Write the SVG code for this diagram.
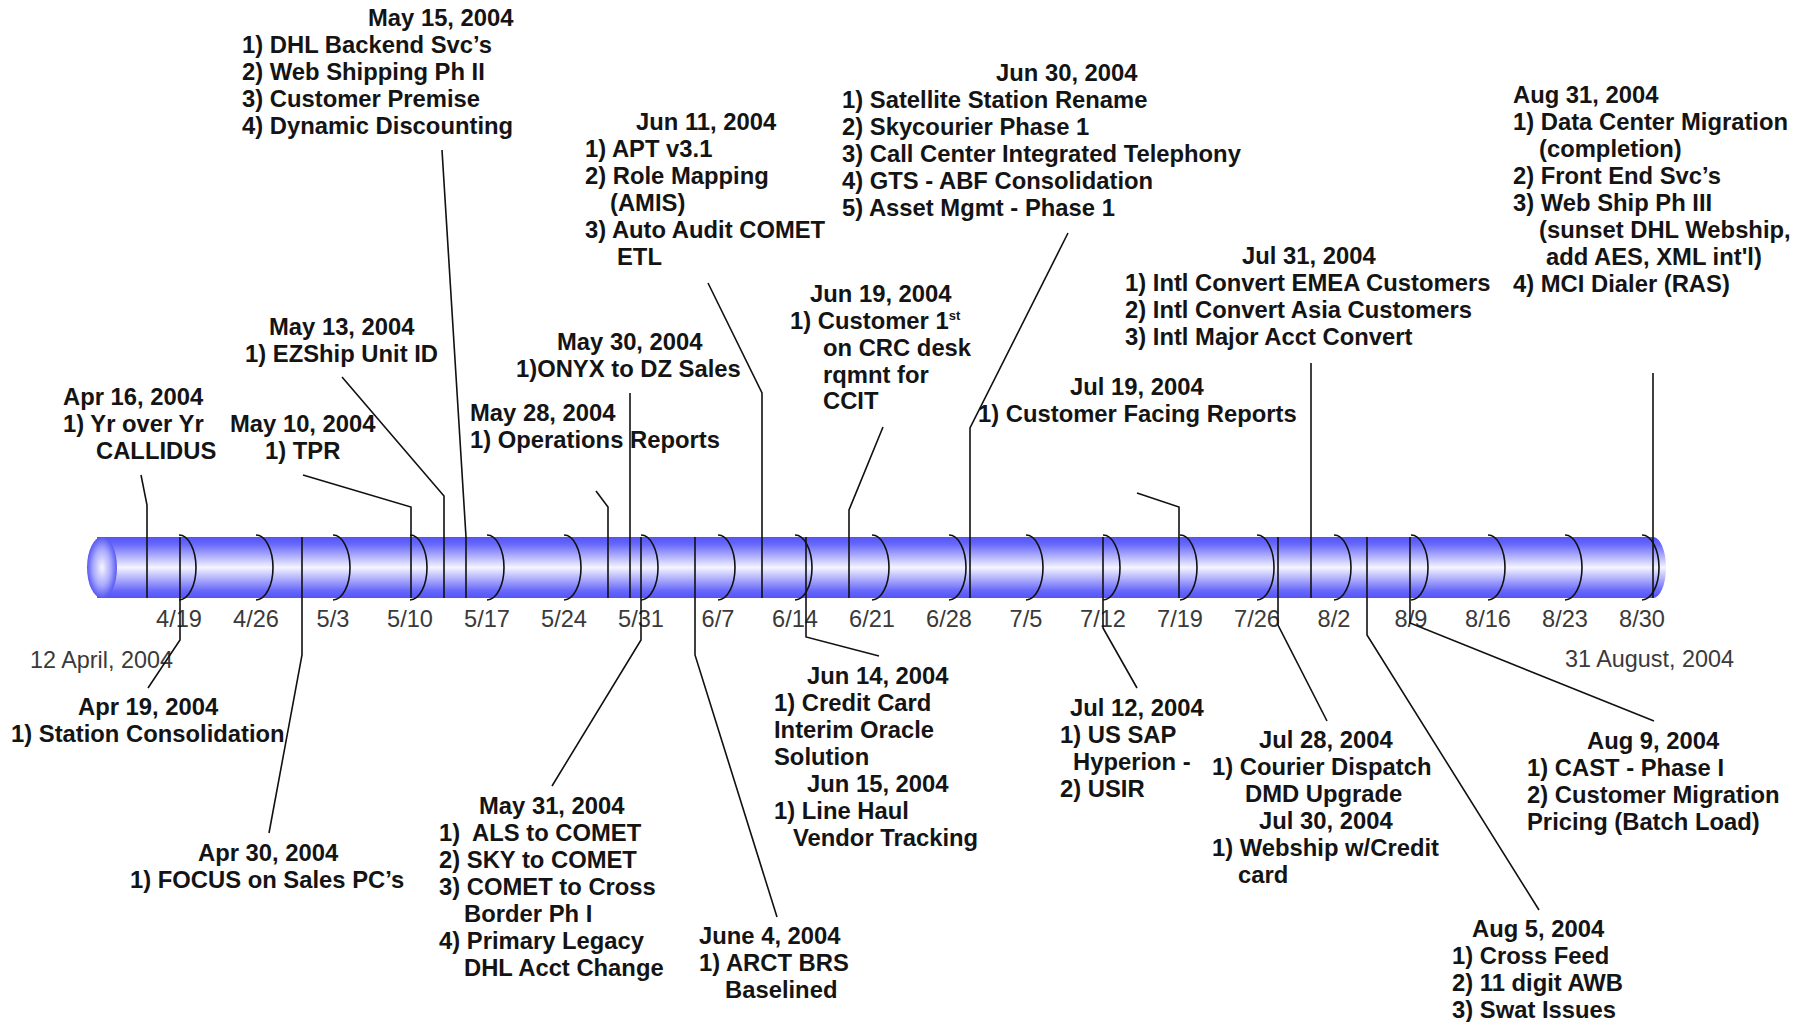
<svg xmlns="http://www.w3.org/2000/svg" width="1810" height="1022" viewBox="0 0 1810 1022">
<defs>
  <linearGradient id="tube" x1="0" y1="0" x2="0" y2="1">
    <stop offset="0" stop-color="#5454f6"/>
    <stop offset="0.12" stop-color="#6868fa"/>
    <stop offset="0.5" stop-color="#f4f4ff"/>
    <stop offset="0.88" stop-color="#6868fa"/>
    <stop offset="1" stop-color="#5454f6"/>
  </linearGradient>
  <radialGradient id="cap" cx="0.5" cy="0.5" r="0.5">
    <stop offset="0" stop-color="#f6f6ff"/>
    <stop offset="0.6" stop-color="#a8a8fc"/>
    <stop offset="1" stop-color="#5858f4"/>
  </radialGradient>
</defs>
<style>
  .lbl { font-family: "Liberation Sans", Arial, sans-serif; font-size: 23.8px; font-weight: bold; fill: #141414; }
  .wk { font-family: "Liberation Sans", Arial, sans-serif; font-size: 23.6px; fill: #3a3a3a; text-anchor: middle; }
  .end { font-family: "Liberation Sans", Arial, sans-serif; font-size: 23.4px; fill: #3a3a3a; }
  .tick { fill: none; stroke: #111; stroke-width: 1.6; }
  .conn { fill: none; stroke: #111; stroke-width: 1.6; }
</style>
<rect width="1810" height="1022" fill="#ffffff"/>

<g id="timeline">
  <path d="M97,537 H1653 A13,30.5 0 0 1 1653,598 H97 Z" fill="url(#tube)"/>
  <ellipse cx="102" cy="567.5" rx="15" ry="30.5" fill="url(#cap)"/>
  <g id="ticks">
    <path class="tick" d="M179,535 A17,32.5 0 0 1 179,600"/>
    <path class="tick" d="M256,535 A17,32.5 0 0 1 256,600"/>
    <path class="tick" d="M333,535 A17,32.5 0 0 1 333,600"/>
    <path class="tick" d="M410,535 A17,32.5 0 0 1 410,600"/>
    <path class="tick" d="M487,535 A17,32.5 0 0 1 487,600"/>
    <path class="tick" d="M564,535 A17,32.5 0 0 1 564,600"/>
    <path class="tick" d="M641,535 A17,32.5 0 0 1 641,600"/>
    <path class="tick" d="M718,535 A17,32.5 0 0 1 718,600"/>
    <path class="tick" d="M795,535 A17,32.5 0 0 1 795,600"/>
    <path class="tick" d="M872,535 A17,32.5 0 0 1 872,600"/>
    <path class="tick" d="M949,535 A17,32.5 0 0 1 949,600"/>
    <path class="tick" d="M1026,535 A17,32.5 0 0 1 1026,600"/>
    <path class="tick" d="M1103,535 A17,32.5 0 0 1 1103,600"/>
    <path class="tick" d="M1180,535 A17,32.5 0 0 1 1180,600"/>
    <path class="tick" d="M1257,535 A17,32.5 0 0 1 1257,600"/>
    <path class="tick" d="M1334,535 A17,32.5 0 0 1 1334,600"/>
    <path class="tick" d="M1411,535 A17,32.5 0 0 1 1411,600"/>
    <path class="tick" d="M1488,535 A17,32.5 0 0 1 1488,600"/>
    <path class="tick" d="M1565,535 A17,32.5 0 0 1 1565,600"/>
    <path class="tick" d="M1642,535 A17,32.5 0 0 1 1642,600"/>
  </g>
  <g id="week-labels">
    <text class="wk" x="179" y="627">4/19</text>
    <text class="wk" x="256" y="627">4/26</text>
    <text class="wk" x="333" y="627">5/3</text>
    <text class="wk" x="410" y="627">5/10</text>
    <text class="wk" x="487" y="627">5/17</text>
    <text class="wk" x="564" y="627">5/24</text>
    <text class="wk" x="641" y="627">5/31</text>
    <text class="wk" x="718" y="627">6/7</text>
    <text class="wk" x="795" y="627">6/14</text>
    <text class="wk" x="872" y="627">6/21</text>
    <text class="wk" x="949" y="627">6/28</text>
    <text class="wk" x="1026" y="627">7/5</text>
    <text class="wk" x="1103" y="627">7/12</text>
    <text class="wk" x="1180" y="627">7/19</text>
    <text class="wk" x="1257" y="627">7/26</text>
    <text class="wk" x="1334" y="627">8/2</text>
    <text class="wk" x="1411" y="627">8/9</text>
    <text class="wk" x="1488" y="627">8/16</text>
    <text class="wk" x="1565" y="627">8/23</text>
    <text class="wk" x="1642" y="627">8/30</text>
  </g>
  <text id="start-date" class="end" x="30" y="668">12 April, 2004</text>
  <text id="end-date" class="end" x="1565" y="667">31 August, 2004</text>
</g>

<g id="connectors">
  <path class="conn" d="M141,475 L147,505 L147,598"/>
  <path class="conn" d="M303,475 L411,507 L411,598"/>
  <path class="conn" d="M342,377 L444,496 L444,598"/>
  <path class="conn" d="M442,150 L466,537 L466,598"/>
  <path class="conn" d="M596,491 L608,507 L608,598"/>
  <path class="conn" d="M630,393 L630,598"/>
  <path class="conn" d="M708,283 L762,393 L762,598"/>
  <path class="conn" d="M883,427 L849,510 L849,598"/>
  <path class="conn" d="M1068,233 L970,428 L970,598"/>
  <path class="conn" d="M1137,493 L1179,507 L1179,598"/>
  <path class="conn" d="M1311,363 L1311,598"/>
  <path class="conn" d="M1653,373 L1653,598"/>
  <path class="conn" d="M180,537 L180,640 L148,688"/>
  <path class="conn" d="M302,537 L302,655 L269,833"/>
  <path class="conn" d="M641,537 L641,640 L552,786"/>
  <path class="conn" d="M695,537 L695,655 L777,917"/>
  <path class="conn" d="M806,537 L806,637 L879,656"/>
  <path class="conn" d="M1103,537 L1103,628 L1137,688"/>
  <path class="conn" d="M1278,537 L1278,625 L1327,721"/>
  <path class="conn" d="M1367,537 L1367,635 L1539,910"/>
  <path class="conn" d="M1410,537 L1410,623 L1654,721"/>
</g>

<g id="n-apr16" class="lbl">
  <text x="63" y="405">Apr 16, 2004</text>
  <text x="63" y="432">1) Yr over Yr</text>
  <text x="96" y="459">CALLIDUS</text>
</g>
<g id="n-may10" class="lbl">
  <text x="230" y="432">May 10, 2004</text>
  <text x="265" y="459">1) TPR</text>
</g>
<g id="n-may13" class="lbl">
  <text x="269" y="335">May 13, 2004</text>
  <text x="245" y="362">1) EZShip Unit ID</text>
</g>
<g id="n-may15" class="lbl">
  <text x="368" y="26">May 15, 2004</text>
  <text x="242" y="53">1) DHL Backend Svc’s</text>
  <text x="242" y="80">2) Web Shipping Ph II</text>
  <text x="242" y="107">3) Customer Premise</text>
  <text x="242" y="134">4) Dynamic Discounting</text>
</g>
<g id="n-may28" class="lbl">
  <text x="470" y="421">May 28, 2004</text>
  <text x="470" y="448">1) Operations Reports</text>
</g>
<g id="n-may30" class="lbl">
  <text x="557" y="350">May 30, 2004</text>
  <text x="516" y="377">1)ONYX to DZ Sales</text>
</g>
<g id="n-jun11" class="lbl">
  <text x="636" y="130">Jun 11, 2004</text>
  <text x="585" y="157">1) APT v3.1</text>
  <text x="585" y="184">2) Role Mapping</text>
  <text x="610" y="211">(AMIS)</text>
  <text x="585" y="238">3) Auto Audit COMET</text>
  <text x="617" y="265">ETL</text>
</g>
<g id="n-jun19" class="lbl">
  <text x="810" y="302">Jun 19, 2004</text>
  <text x="790" y="329">1) Customer 1<tspan font-size="13" dy="-9">st</tspan></text>
  <text x="823" y="356">on CRC desk</text>
  <text x="823" y="383">rqmnt for</text>
  <text x="823" y="409">CCIT</text>
</g>
<g id="n-jun30" class="lbl">
  <text x="996" y="81">Jun 30, 2004</text>
  <text x="842" y="108">1) Satellite Station Rename</text>
  <text x="842" y="135">2) Skycourier Phase 1</text>
  <text x="842" y="162">3) Call Center Integrated Telephony</text>
  <text x="842" y="189">4) GTS - ABF Consolidation</text>
  <text x="842" y="216">5) Asset Mgmt - Phase 1</text>
</g>
<g id="n-jul19" class="lbl">
  <text x="1070" y="395">Jul 19, 2004</text>
  <text x="978" y="422">1) Customer Facing Reports</text>
</g>
<g id="n-jul31" class="lbl">
  <text x="1242" y="264">Jul 31, 2004</text>
  <text x="1125" y="291">1) Intl Convert EMEA Customers</text>
  <text x="1125" y="318">2) Intl Convert Asia Customers</text>
  <text x="1125" y="345">3) Intl Major Acct Convert</text>
</g>
<g id="n-aug31" class="lbl">
  <text x="1513" y="103">Aug 31, 2004</text>
  <text x="1513" y="130">1) Data Center Migration</text>
  <text x="1539" y="157">(completion)</text>
  <text x="1513" y="184">2) Front End Svc’s</text>
  <text x="1513" y="211">3) Web Ship Ph III</text>
  <text x="1539" y="238">(sunset DHL Webship,</text>
  <text x="1546" y="265">add AES, XML int'l)</text>
  <text x="1513" y="292">4) MCI Dialer (RAS)</text>
</g>

<g id="n-apr19" class="lbl">
  <text x="78" y="715">Apr 19, 2004</text>
  <text x="11" y="742">1) Station Consolidation</text>
</g>
<g id="n-apr30" class="lbl">
  <text x="198" y="861">Apr 30, 2004</text>
  <text x="130" y="888">1) FOCUS on Sales PC’s</text>
</g>
<g id="n-may31" class="lbl">
  <text x="479" y="814">May 31, 2004</text>
  <text x="439" y="841">1)<tspan x="472">ALS to COMET</tspan></text>
  <text x="439" y="868">2) SKY to COMET</text>
  <text x="439" y="895">3) COMET to Cross</text>
  <text x="464" y="922">Border Ph I</text>
  <text x="439" y="949">4) Primary Legacy</text>
  <text x="464" y="976">DHL Acct Change</text>
</g>
<g id="n-jun04" class="lbl">
  <text x="699" y="944">June 4, 2004</text>
  <text x="699" y="971">1) ARCT BRS</text>
  <text x="725" y="998">Baselined</text>
</g>
<g id="n-jun14" class="lbl">
  <text x="807" y="684">Jun 14, 2004</text>
  <text x="774" y="711">1) Credit Card</text>
  <text x="774" y="738">Interim Oracle</text>
  <text x="774" y="765">Solution</text>
</g>
<g id="n-jun15" class="lbl">
  <text x="807" y="792">Jun 15, 2004</text>
  <text x="774" y="819">1) Line Haul</text>
  <text x="793" y="846">Vendor Tracking</text>
</g>
<g id="n-jul12" class="lbl">
  <text x="1070" y="716">Jul 12, 2004</text>
  <text x="1060" y="743">1) US SAP</text>
  <text x="1073" y="770">Hyperion -</text>
  <text x="1060" y="797">2) USIR</text>
</g>
<g id="n-jul28" class="lbl">
  <text x="1259" y="748">Jul 28, 2004</text>
  <text x="1212" y="775">1) Courier Dispatch</text>
  <text x="1245" y="802">DMD Upgrade</text>
</g>
<g id="n-jul30" class="lbl">
  <text x="1259" y="829">Jul 30, 2004</text>
  <text x="1212" y="856">1) Webship w/Credit</text>
  <text x="1238" y="883">card</text>
</g>
<g id="n-aug05" class="lbl">
  <text x="1472" y="937">Aug 5, 2004</text>
  <text x="1452" y="964">1) Cross Feed</text>
  <text x="1452" y="991">2) 11 digit AWB</text>
  <text x="1452" y="1018">3) Swat Issues</text>
</g>
<g id="n-aug09" class="lbl">
  <text x="1587" y="749">Aug 9, 2004</text>
  <text x="1527" y="776">1) CAST - Phase I</text>
  <text x="1527" y="803">2) Customer Migration</text>
  <text x="1527" y="830">Pricing (Batch Load)</text>
</g>
</svg>
